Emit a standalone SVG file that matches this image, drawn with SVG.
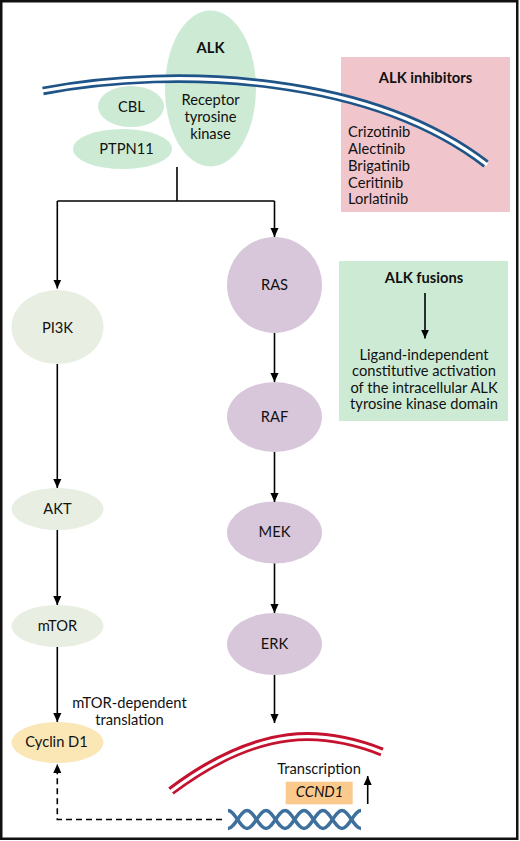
<svg xmlns="http://www.w3.org/2000/svg" width="520" height="841" viewBox="0 0 520 841">
<defs>
<marker id="ah" viewBox="0 0 10 9" refX="10" refY="4.5" markerWidth="9" markerHeight="8.5" markerUnits="userSpaceOnUse" orient="auto">
<path d="M0,0 L10,4.5 L0,9 z" fill="#000"/>
</marker>
<style>
text{font-family:Lato,"Noto Sans","Liberation Sans",sans-serif;font-size:14.7px;fill:#111;}
.c{text-anchor:middle;}
.b{font-weight:bold;}
.i{font-style:italic;}
.grn{fill:#cdebd4;}
.gry{fill:#e8efe2;}
.pur{fill:#d8c7db;}
.ln{fill:none;stroke:#000;stroke-width:1.6;}
.dash{fill:none;stroke:#000;stroke-width:1.6;stroke-dasharray:6,4;}
</style>
</defs>
<rect x="0" y="0" width="520" height="841" fill="#fff"/>
<rect x="1.25" y="1.25" width="516" height="837.5" fill="none" stroke="#111" stroke-width="2.5"/>

<g id="alk-inhibitors">
<rect x="341" y="57" width="169" height="155" fill="#f0c6cc"/>
<text x="425.5" y="82.7" class="c b">ALK inhibitors</text>
<text x="348" y="136.7">Crizotinib</text>
<text x="348" y="154">Alectinib</text>
<text x="348" y="170.7">Brigatinib</text>
<text x="348" y="187.7">Ceritinib</text>
<text x="348" y="204.3">Lorlatinib</text>
</g>

<g id="cbl">
<ellipse cx="131" cy="106.5" rx="33" ry="20.5" class="grn"/>
<text x="131.5" y="111.5" class="c">CBL</text>
</g>
<g id="ptpn11">
<ellipse cx="122.5" cy="149" rx="49.5" ry="20" class="grn"/>
<text x="126.5" y="153.5" class="c">PTPN11</text>
</g>
<g id="alk">
<ellipse cx="210.5" cy="88.5" rx="45.5" ry="78" class="grn"/>
<text x="210.5" y="53" class="c b">ALK</text>
<text x="210.5" y="104.5" class="c">Receptor</text>
<text x="210.5" y="121.7" class="c">tyrosine</text>
<text x="210.5" y="139" class="c">kinase</text>
</g>

<g id="membrane">
<path d="M43,91 C180,65 372,76 486,164" fill="none" stroke="#1f5488" stroke-width="8.6"/>
<path d="M42,91 C180,65 372,76 487,164.7" fill="none" stroke="#fff" stroke-width="3.2"/>
</g>

<g id="alk-fusions">
<rect x="339" y="261" width="169" height="160" fill="#cdebd4"/>
<text x="424" y="282.7" class="c b">ALK fusions</text>
<line x1="425" y1="293" x2="425" y2="338.5" class="ln" marker-end="url(#ah)"/>
<text x="424" y="359.5" class="c">Ligand-independent</text>
<text x="424" y="376" class="c">constitutive activation</text>
<text x="424" y="392.7" class="c">of the intracellular ALK</text>
<text x="424" y="409.3" class="c">tyrosine kinase domain</text>
</g>

<g id="pi3k">
<ellipse cx="57.5" cy="327" rx="46" ry="37" class="gry"/>
<text x="57.5" y="332.7" class="c">PI3K</text>
</g>
<g id="akt">
<ellipse cx="57.5" cy="509" rx="46" ry="21" class="gry"/>
<text x="57.5" y="514" class="c">AKT</text>
</g>
<g id="mtor">
<ellipse cx="57.5" cy="626" rx="46" ry="21" class="gry"/>
<text x="57.5" y="630.5" class="c">mTOR</text>
</g>
<g id="cyclind1">
<ellipse cx="57.5" cy="742.5" rx="46" ry="20.5" fill="#fbe6b6"/>
<text x="56.5" y="747.3" class="c">Cyclin D1</text>
</g>

<g id="ras">
<ellipse cx="274.5" cy="285" rx="47.5" ry="48" class="pur"/>
<text x="274.5" y="290" class="c">RAS</text>
</g>
<g id="raf">
<ellipse cx="274.5" cy="417" rx="47.5" ry="35" class="pur"/>
<text x="274.5" y="422.3" class="c">RAF</text>
</g>
<g id="mek">
<ellipse cx="274.5" cy="532.5" rx="47.5" ry="31" class="pur"/>
<text x="274.5" y="537.3" class="c">MEK</text>
</g>
<g id="erk">
<ellipse cx="274.5" cy="644" rx="47.5" ry="31" class="pur"/>
<text x="274.5" y="648.5" class="c">ERK</text>
</g>

<g id="nucleus">
<path d="M171,791 C260,724 324,729 382,752" fill="none" stroke="#c4122f" stroke-width="9"/>
<path d="M170,792 C260,724 324,729 383,752.4" fill="none" stroke="#fff" stroke-width="3.2"/>
</g>

<g id="ccnd1">
<text x="319" y="774" class="c">Transcription</text>
<rect x="285.7" y="781.7" width="67" height="22.6" fill="#fbc98c"/>
<text x="319.5" y="797.3" class="c i">CCND1</text>
</g>

<g id="dna" fill="none" stroke="#3d709d" stroke-width="3.4">
<path d="M228,810.5 C235,810.5 240,828.5 247,828.5 C254,828.5 259,810.5 266,810.5 C273,810.5 278,828.5 285,828.5 C292,828.5 297,810.5 304,810.5 C311,810.5 316,828.5 323,828.5 C330,828.5 335,810.5 342,810.5 C349,810.5 354,828.5 361,828.5"/>
<path d="M228,828.5 C235,828.5 240,810.5 247,810.5 C254,810.5 259,828.5 266,828.5 C273,828.5 278,810.5 285,810.5 C292,810.5 297,828.5 304,828.5 C311,828.5 316,810.5 323,810.5 C330,810.5 335,828.5 342,828.5 C349,828.5 354,810.5 361,810.5"/>
</g>

<g id="labels">
<text x="129.5" y="707.7" class="c">mTOR-dependent</text>
<text x="129.5" y="725" class="c">translation</text>
</g>

<g id="connectors">
<path d="M177,167 V201" class="ln"/>
<path d="M57.3,201 H274.5" class="ln"/>
<path d="M57.3,201 V288.5" class="ln" marker-end="url(#ah)"/>
<path d="M274.5,201 V237" class="ln" marker-end="url(#ah)"/>
<path d="M274.5,333 V382" class="ln" marker-end="url(#ah)"/>
<path d="M57.3,364 V488" class="ln" marker-end="url(#ah)"/>
<path d="M274.5,452 V502" class="ln" marker-end="url(#ah)"/>
<path d="M57.3,530 V605" class="ln" marker-end="url(#ah)"/>
<path d="M274.5,563.5 V613" class="ln" marker-end="url(#ah)"/>
<path d="M57.3,647 V722" class="ln" marker-end="url(#ah)"/>
<path d="M274.5,675 V723" class="ln" marker-end="url(#ah)"/>
<path d="M367.7,804 V776" class="ln" marker-end="url(#ah)"/>
<path d="M222,819.5 H57.3 V764" class="dash" marker-end="url(#ah)"/>
</g>
</svg>
